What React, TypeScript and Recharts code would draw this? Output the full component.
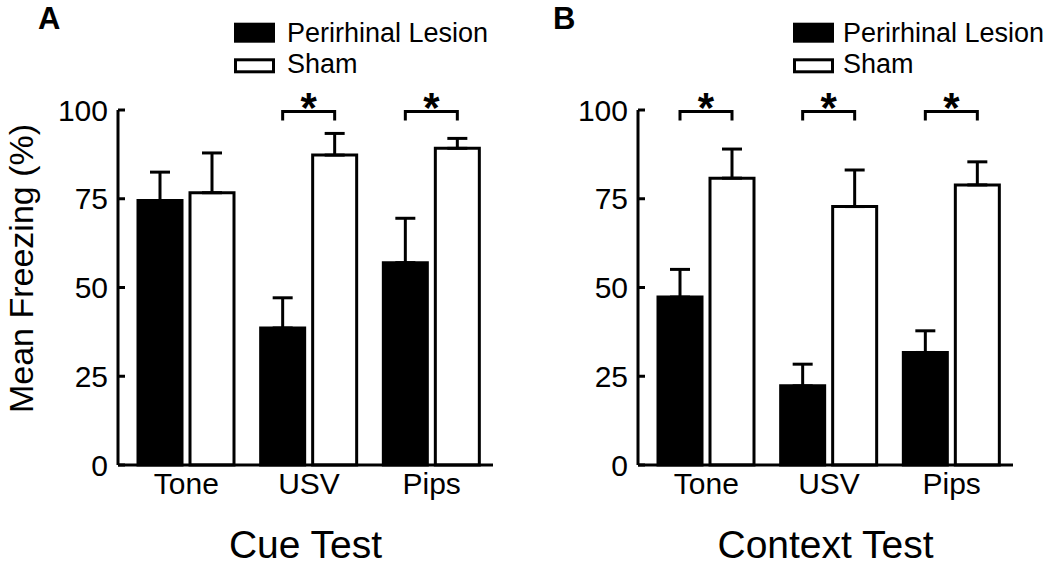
import { BarChart, Bar, XAxis, YAxis, ErrorBar, LabelList, Legend, Label } from "recharts";

const FONT = '"Liberation Sans", Arial, Helvetica, sans-serif';

// readings (mean freezing %, SEM shown upward only)
const CATEGORIES = ["Tone", "USV", "Pips"];
const CUE_LESION = [74.5, 38.6, 57.0];
const CUE_LESION_SEM = [8.0, 8.5, 12.5];
const CUE_SHAM = [76.7, 87.3, 89.2];
const CUE_SHAM_SEM = [11.2, 6.1, 2.8];
const CUE_SIG = [false, true, true];

const CTX_LESION = [47.3, 22.3, 31.7];
const CTX_LESION_SEM = [7.8, 6.1, 6.1];
const CTX_SHAM = [80.8, 72.8, 78.9];
const CTX_SHAM_SEM = [8.2, 10.3, 6.5];
const CTX_SIG = [true, true, true];

const Y_TICKS = [0, 25, 50, 75, 100];
const BRACKET_LEVEL = 99.6;

const BAR_SIZE = 44;
const BAR_GAP = 8;

function buildRows(lesion: number[], lesionSem: number[], sham: number[], shamSem: number[]) {
  return CATEGORIES.map((name, i) => ({
    name,
    lesion: lesion[i],
    sham: sham[i],
    lesionErr: [0, lesionSem[i]],
    shamErr: [0, shamSem[i]],
  }));
}

const cueData = buildRows(CUE_LESION, CUE_LESION_SEM, CUE_SHAM, CUE_SHAM_SEM);
const ctxData = buildRows(CTX_LESION, CTX_LESION_SEM, CTX_SHAM, CTX_SHAM_SEM);

function YTick(props: any) {
  const { x, y, payload } = props;
  return (
    <g>
      <line x1={x + 10} x2={x + 17} y1={y} y2={y} stroke="#000" strokeWidth={3} />
      <text x={x} y={y} dy="0.355em" textAnchor="end" fontSize={30} fill="#000" fontFamily={FONT}>
        {payload.value}
      </text>
    </g>
  );
}

function bracketContent(sig: boolean[]) {
  return (props: any) => {
    const idx = props.index;
    if (!sig[idx]) return null;
    const vb = props.viewBox ?? {};
    const x = vb.x ?? props.x;
    const y = vb.y ?? props.y;
    const w = vb.width ?? props.width;
    const h = vb.height ?? props.height;
    const value = Number(props.value);
    const perUnit = h / value;
    const yb = y + h - BRACKET_LEVEL * perUnit;
    const xr = x + w / 2;
    const xl = xr - (BAR_SIZE + BAR_GAP);
    return (
      <g>
        <path d={`M${xl},${yb + 9}V${yb}H${xr}V${yb + 9}`} fill="none" stroke="#000" strokeWidth={3} />
        <text x={(xl + xr) / 2} y={yb + 11} textAnchor="middle" fontSize={42} fontWeight="bold" fill="#000" fontFamily={FONT}>
          *
        </text>
      </g>
    );
  };
}

function LegendBox({ payload, textX }: { payload?: any[]; textX: number }) {
  const names = (payload ?? []).map((p) => p.value);
  return (
    <svg width={300} height={90} style={{ display: "block" }}>
      <rect x={0} y={22.7} width={41} height={20} fill="#000" />
      <rect x={1.5} y={59.8} width={38} height={12} fill="#fff" stroke="#000" strokeWidth={3} />
      <text x={textX} y={41.7} fontSize={27} fill="#000" fontFamily={FONT}>
        {names[0] ?? "Perirhinal Lesion"}
      </text>
      <text x={textX} y={73.3} fontSize={27} fill="#000" fontFamily={FONT}>
        {names[1] ?? "Sham"}
      </text>
    </svg>
  );
}

function Panel({
  data,
  sig,
  title,
  letter,
  letterX,
  legendX,
  legendTextX,
  yLabel,
}: {
  data: any[];
  sig: boolean[];
  title: string;
  letter: string;
  letterX: number;
  legendX: number;
  legendTextX: number;
  yLabel?: string;
}) {
  return (
    <div style={{ position: "relative", width: 520, height: 567 }}>
      <svg width={60} height={40} style={{ position: "absolute", left: 0, top: 0 }}>
        <text x={letterX} y={29} fontSize={31} fontWeight="bold" fill="#000" fontFamily={FONT}>
          {letter}
        </text>
      </svg>
      <BarChart
        width={520}
        height={567}
        data={data}
        margin={{ top: 110, right: 27, left: 0, bottom: 0 }}
        barSize={BAR_SIZE}
        barGap={BAR_GAP}
      >
        <XAxis
          dataKey="name"
          height={102}
          padding={{ left: 7, right: 0 }}
          axisLine={{ stroke: "#000", strokeWidth: 3 }}
          tickLine={false}
          tick={{ fill: "#000", fontSize: 30, fontFamily: FONT }}
        >
          <Label
            content={(p: any) => {
              const vb = p.viewBox;
              return (
                <text x={vb.x + vb.width / 2} y={vb.y + 93} textAnchor="middle" fontSize={39} fill="#000" fontFamily={FONT}>
                  {title}
                </text>
              );
            }}
          />
        </XAxis>
        <YAxis
          width={118}
          domain={[0, 100]}
          ticks={Y_TICKS}
          interval={0}
          axisLine={{ stroke: "#000", strokeWidth: 3 }}
          tickLine={false}
          tickSize={0}
          tickMargin={10}
          tick={<YTick />}
        >
          {yLabel && (
            <Label
              content={(p: any) => {
                const vb = p.viewBox;
                const cx = vb.x + 33;
                const cy = vb.y + vb.height / 2 - 19;
                return (
                  <text
                    x={cx}
                    y={cy}
                    transform={`rotate(-90, ${cx}, ${cy})`}
                    textAnchor="middle"
                    fontSize={34}
                    fill="#000"
                    fontFamily={FONT}
                  >
                    {yLabel}
                  </text>
                );
              }}
            />
          )}
        </YAxis>
        <Legend
          layout="horizontal"
          verticalAlign="middle"
          align="center"
          wrapperStyle={{ left: legendX, top: 0, width: 300, height: 90 }}
          content={(props: any) => <LegendBox payload={props.payload} textX={legendTextX} />}
        />
        <Bar dataKey="lesion" name="Perirhinal Lesion" fill="#000" stroke="#000" strokeWidth={3} isAnimationActive={false}>
          <ErrorBar dataKey="lesionErr" direction="y" width={10} stroke="#000" strokeWidth={3} />
        </Bar>
        <Bar dataKey="sham" name="Sham" fill="#fff" stroke="#000" strokeWidth={3} isAnimationActive={false}>
          <ErrorBar dataKey="shamErr" direction="y" width={10} stroke="#000" strokeWidth={3} />
          <LabelList dataKey="sham" content={bracketContent(sig)} />
        </Bar>
      </BarChart>
    </div>
  );
}

export default function App() {
  return (
    <div
      style={{
        position: "absolute",
        left: 0,
        top: 0,
        width: 1050,
        height: 567,
        background: "#fff",
        fontFamily: FONT,
        display: "flex",
      }}
    >
      <Panel
        data={cueData}
        sig={CUE_SIG}
        title="Cue Test"
        letter="A"
        letterX={38}
        legendX={234}
        legendTextX={53}
        yLabel="Mean Freezing (%)"
      />
      <Panel
        data={ctxData}
        sig={CTX_SIG}
        title="Context Test"
        letter="B"
        letterX={33}
        legendX={273}
        legendTextX={50}
      />
    </div>
  );
}
